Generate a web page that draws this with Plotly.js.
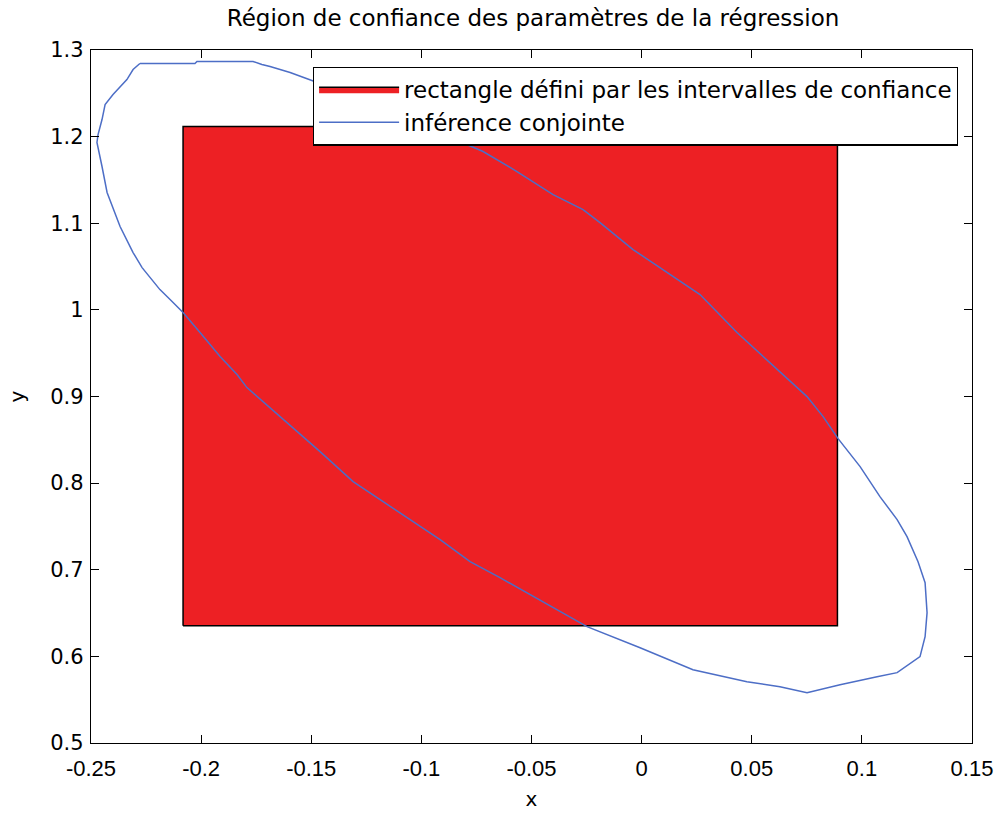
<!DOCTYPE html>
<html>
<head>
<meta charset="utf-8">
<script src="https://cdn.plot.ly/plotly-3.0.1.min.js"></script>
<style>html,body{margin:0;padding:0;background:#fff;}#chart{width:1002px;height:813px;}</style>
</head>
<body>
<div id="chart"></div>
<script>
// Rectangle defined by the individual confidence intervals
const rectX = [-0.2082, 0.0889];
const rectY = [0.6354, 1.2117];

// Joint confidence region (closed contour)
const ellipseX = [-0.2278, -0.2028, -0.2019, -0.1764, -0.1724, -0.1687, -0.1596, -0.1324, -0.1006,
  -0.0720, -0.0566, -0.0402, -0.0266, -0.0189, -0.0039, 0.0115, 0.0265, 0.0433, 0.0551, 0.0642,
  0.0751, 0.0824, 0.0892, 0.0992, 0.1082, 0.1160, 0.1205, 0.1255, 0.1287, 0.1296, 0.1287, 0.1264,
  0.1160, 0.1069, 0.0901, 0.0751, 0.0628, 0.0478, 0.0233, -0.0007, -0.0248, -0.0643, -0.0779,
  -0.0915, -0.1052, -0.1201, -0.1310, -0.1460, -0.1565, -0.1655, -0.1733, -0.1792, -0.1837,
  -0.1914, -0.2005, -0.2082, -0.2141, -0.2187, -0.2268, -0.2309, -0.2368, -0.2427, -0.2450,
  -0.2473, -0.2468, -0.2450, -0.2436, -0.2400, -0.2337, -0.2309, -0.2278];
const ellipseY = [1.2844, 1.2844, 1.2867, 1.2867, 1.2833, 1.2809, 1.2740, 1.2486, 1.2140,
  1.1828, 1.1597, 1.1331, 1.1158, 1.1008, 1.0696, 1.0431, 1.0177, 0.9738, 0.9461, 0.9253,
  0.8999, 0.8768, 0.8514, 0.8191, 0.7844, 0.7579, 0.7382, 0.7093, 0.6851, 0.6505, 0.6227, 0.5997,
  0.5812, 0.5766, 0.5673, 0.5581, 0.5650, 0.5708, 0.5846, 0.6100, 0.6343, 0.6909, 0.7093,
  0.7348, 0.7579, 0.7833, 0.8017, 0.8364, 0.8595, 0.8791, 0.8964, 0.9103, 0.9253,
  0.9461, 0.9738, 0.9969, 1.0119, 1.0234, 1.0488, 1.0662, 1.0962, 1.1355, 1.1655,
  1.1932, 1.2024, 1.2197, 1.2371, 1.2486, 1.2659, 1.2775, 1.2844];

const xTickVals = [-0.25, -0.2, -0.15, -0.1, -0.05, 0, 0.05, 0.1, 0.15];
const xTickText = ['-0.25', '-0.2', '-0.15', '-0.1', '-0.05', '0', '0.05', '0.1', '0.15'];
const yTickVals = [0.5, 0.6, 0.7, 0.8, 0.9, 1.0, 1.1, 1.2, 1.3];
const yTickText = ['0.5', '0.6', '0.7', '0.8', '0.9', '1', '1.1', '1.2', '1.3'];

const seriesNames = ['rectangle défini par les intervalles de confiance', 'inférence conjointe'];
const titleText = 'Région de confiance des paramètres de la régression';

const NARROW = '"Liberation Sans Narrow", "Liberation Sans", Arial, sans-serif';
const WIDE = '"DejaVu Sans", "Liberation Sans", Arial, sans-serif';

const traces = [
  {
    x: [rectX[0], rectX[1], rectX[1], rectX[0], rectX[0]],
    y: [rectY[0], rectY[0], rectY[1], rectY[1], rectY[0]],
    mode: 'lines', fill: 'toself', fillcolor: '#ED2024',
    line: {color: '#000000', width: 1.5},
    name: seriesNames[0], hoverinfo: 'skip'
  },
  {
    x: ellipseX, y: ellipseY, mode: 'lines',
    line: {color: '#4D6EC6', width: 1.5},
    name: seriesNames[1]
  }
];

const axisCommon = {
  showgrid: false, zeroline: false, showline: true, mirror: 'ticks',
  linecolor: '#000', linewidth: 1.2, ticks: 'inside', ticklen: 8, tickcolor: '#000',
  tickmode: 'array'
};

const layout = {
  width: 1002, height: 813,
  margin: {l: 91, r: 30, t: 50, b: 70},
  paper_bgcolor: '#fff', plot_bgcolor: '#fff',
  title: {text: titleText, font: {family: WIDE, size: 23, color: '#000'}, x: 0.532, xanchor: 'center', y: 0.978, yanchor: 'middle'},
  xaxis: Object.assign({}, axisCommon, {
    range: [-0.25, 0.15], tickvals: xTickVals, ticktext: xTickText,
    tickfont: {family: NARROW, size: 22, color: '#000'}, ticklabelstandoff: 5,
    title: {text: 'x', font: {family: WIDE, size: 20, color: '#000'}, standoff: 12}
  }),
  yaxis: Object.assign({}, axisCommon, {
    range: [0.5, 1.3], tickvals: yTickVals, ticktext: yTickText,
    tickfont: {family: WIDE, size: 21, color: '#000'}, ticklabelstandoff: 2,
    title: {text: 'y', font: {family: WIDE, size: 20, color: '#000'}, standoff: 20}
  }),
  legend: {
    x: 0.984, y: 0.976, xanchor: 'right', yanchor: 'top',
    bgcolor: '#fff', bordercolor: '#000', borderwidth: 1.2,
    font: {family: WIDE, size: 23, color: '#000'},
    tracegroupgap: 6, itemwidth: 80
  },
  showlegend: true
};

Plotly.newPlot('chart', traces, layout, {displayModeBar: false, staticPlot: true});
</script>
</body>
</html>
